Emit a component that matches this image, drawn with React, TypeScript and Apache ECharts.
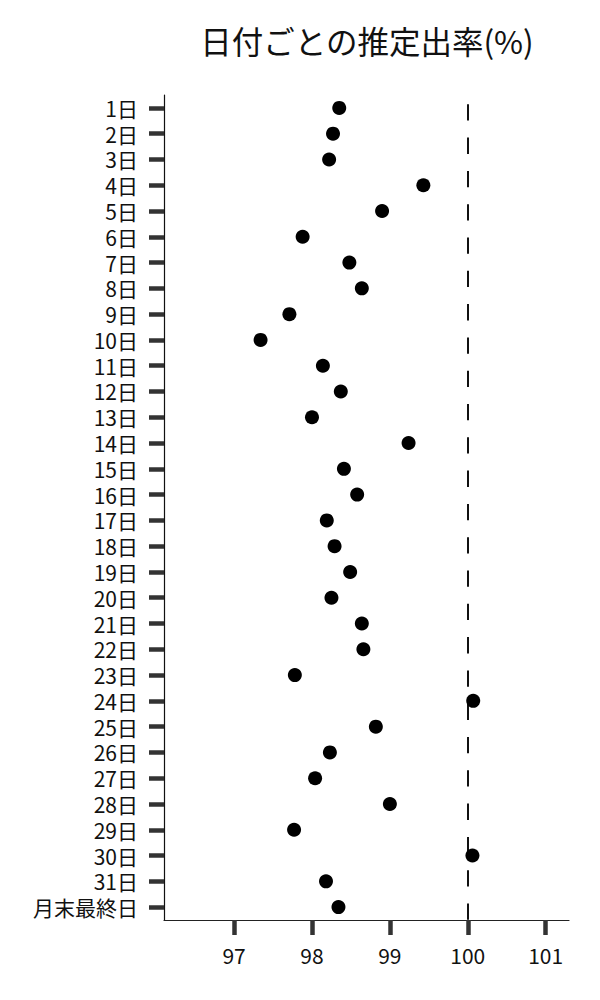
import React from "react";
import * as echarts from "echarts";

// ---------- data ----------
const days = [
  "1日", "2日", "3日", "4日", "5日", "6日", "7日", "8日", "9日", "10日",
  "11日", "12日", "13日", "14日", "15日", "16日", "17日", "18日", "19日", "20日",
  "21日", "22日", "23日", "24日", "25日", "26日", "27日", "28日", "29日", "30日",
  "31日", "月末最終日",
];
const rates = [
  98.35, 98.27, 98.22, 99.43, 98.9, 97.88, 98.48, 98.64, 97.71, 97.34,
  98.14, 98.37, 98.0, 99.24, 98.41, 98.58, 98.19, 98.29, 98.49, 98.25,
  98.64, 98.66, 97.78, 100.07, 98.82, 98.23, 98.04, 99.0, 97.77, 100.06,
  98.18, 98.34,
];
const xTicks = [97, 98, 99, 100, 101];
const refValue = 100;
const title = "日付ごとの推定出率(%)";

const FONT = "'Noto Sans CJK JP', 'Noto Sans', sans-serif";

export default function App() {
  const ref = React.useRef<HTMLDivElement>(null);

  React.useEffect(() => {
    const el = ref.current;
    if (!el) return;
    const chart = echarts.init(el, undefined, { renderer: "svg" });
    chart.setOption({
      animation: false,
      title: {
        text: title,
        left: 362,
        top: 19,
        textAlign: "center",
        textStyle: { fontFamily: FONT, fontSize: 31.5, fontWeight: "normal", color: "#111" },
      },
      grid: { left: 164, right: 31, top: 95, bottom: 80 },
      xAxis: {
        type: "value",
        min: 96.1,
        max: 101.3,
        splitLine: { show: false },
        axisLine: { show: true, lineStyle: { color: "#222", width: 1.2 } },
        axisTick: { show: true, customValues: xTicks, length: 15, lineStyle: { color: "#333", width: 4.5 } },
        axisLabel: { customValues: xTicks, margin: 24, fontFamily: FONT, fontSize: 21, color: "#111" },
      },
      yAxis: {
        type: "category",
        data: days,
        inverse: true,
        axisLine: { show: true, lineStyle: { color: "#111", width: 1.2 } },
        axisTick: { show: true, interval: 0, alignWithLabel: true, length: 15, lineStyle: { color: "#333", width: 4.5 } },
        axisLabel: { interval: 0, margin: 26, fontFamily: FONT, fontSize: 21, lineHeight: 22, color: "#111" },
        splitLine: { show: false },
      },
      series: [
        {
          type: "scatter",
          data: rates.map((v, i) => [v, days[i]]),
          symbolSize: 14,
          itemStyle: { color: "#000", opacity: 1 },
          z: 3,
          markLine: {
            silent: true,
            symbol: ["none", "none"],
            label: { show: false },
            lineStyle: { color: "#111", width: 2, type: [16.3, 17], dashOffset: 23.8 },
            data: [{ xAxis: refValue }],
            z: 1,
          },
        },
      ],
    });
    return () => chart.dispose();
  }, []);

  return (
    <div
      ref={ref}
      style={{ position: "absolute", left: 0, top: 0, width: 600, height: 1000 }}
    />
  );
}
